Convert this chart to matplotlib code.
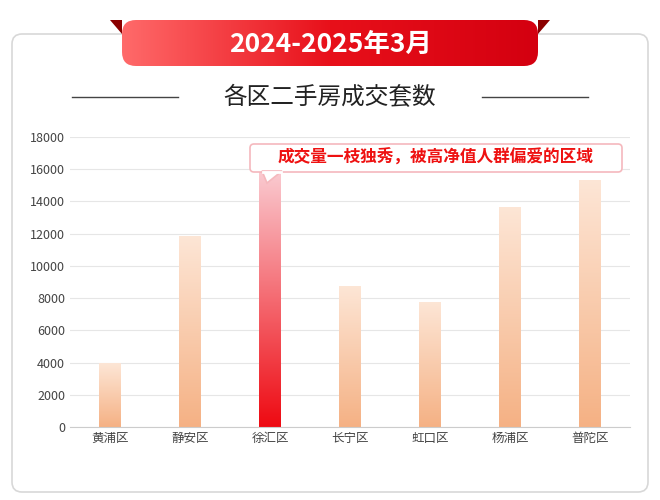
import numpy as np
import matplotlib.pyplot as plt
from matplotlib.patches import FancyBboxPatch, Polygon
from matplotlib.colors import LinearSegmentedColormap

plt.rcParams['font.family'] = 'sans-serif'
plt.rcParams['font.sans-serif'] = ['Noto Sans CJK SC', 'Noto Sans CJK JP', 'Noto Sans CJK TC',
                                   'Noto Sans CJK KR', 'DejaVu Sans']

districts = ['黄浦区', '静安区', '徐汇区', '长宁区', '虹口区', '杨浦区', '普陀区']
deals = [3970, 11860, 16800, 8760, 7760, 13660, 15340]
yticks = [0, 2000, 4000, 6000, 8000, 10000, 12000, 14000, 16000, 18000]
highlight = '徐汇区'

fig = plt.figure(figsize=(6.6, 5), dpi=100)
W, H = 660, 500

# card background
bg = fig.add_axes([0, 0, 1, 1])
bg.set_xlim(0, W); bg.set_ylim(H, 0); bg.axis('off')
bg.add_patch(FancyBboxPatch((12, 34), 636, 458, boxstyle='round,pad=0,rounding_size=10',
                            fc='white', ec='#d8d8d8', lw=1.2))
# banner with gradient
bg.add_patch(Polygon([[110, 20], [122, 20], [122, 34]], closed=True, fc='#8b0000', ec='none'))
bg.add_patch(Polygon([[550, 20], [538, 20], [538, 34]], closed=True, fc='#8b0000', ec='none'))
banner = FancyBboxPatch((122, 20), 416, 46, boxstyle='round,pad=0,rounding_size=14', fc='none', ec='none')
bg.add_patch(banner)
grad = np.linspace(0, 1, 256).reshape(1, -1)
cm_b = LinearSegmentedColormap.from_list('b', ['#ff6a6a', '#e8101a', '#d40010'])
im = bg.imshow(grad, extent=[122, 538, 66, 20], cmap=cm_b, aspect='auto', zorder=1)
im.set_clip_path(banner)
bg.text(330, 44, '2024-2025年3月', color='white', fontsize=19, fontweight='bold', ha='center', va='center', zorder=2)
bg.text(330, 97, '各区二手房成交套数', color='#222222', fontsize=17, ha='center', va='center')
bg.plot([72, 178], [97, 97], color='#444444', lw=1)
bg.plot([482, 588], [97, 97], color='#444444', lw=1)

# chart
ax = fig.add_axes([70 / W, 1 - 427 / H, 560 / W, 290 / H])
ax.patch.set_alpha(0)
ax.set_yticks(yticks)
ax.set_xticks(range(len(districts)))
ax.set_xticklabels(districts)
ax.tick_params(length=0, labelsize=9, colors='#444444')
ax.grid(axis='y', color='#e6e6e6', lw=0.8)
ax.set_axisbelow(True)
for s in ['top', 'right', 'left']:
    ax.spines[s].set_visible(False)
ax.spines['bottom'].set_color('#cccccc')

cm_o = LinearSegmentedColormap.from_list('o', ['#f5b184', '#fde6d6'])
cm_r = LinearSegmentedColormap.from_list('r', ['#ee0a12', '#fbd6dc'])
vgrad = np.linspace(0, 1, 256).reshape(-1, 1)
bars = ax.bar(range(len(districts)), deals, width=0.27, color='none')
for b, name in zip(bars, districts):
    x0, h = b.get_x(), b.get_height()
    img = ax.imshow(vgrad, extent=[x0, x0 + b.get_width(), 0, h], origin='lower', aspect='auto',
                    cmap=cm_r if name == highlight else cm_o, zorder=2)
    img.set_clip_path(b)
ax.set_xlim(-0.5, len(districts) - 0.5)
ax.set_ylim(0, 18000)

# callout on top layer
top = fig.add_axes([0, 0, 1, 1])
top.set_xlim(0, W); top.set_ylim(H, 0); top.axis('off')
top.add_patch(FancyBboxPatch((250, 144), 372, 28, boxstyle='round,pad=0,rounding_size=4',
                             fc='white', ec='#f5b8bd', lw=1.2, zorder=5))
top.add_patch(Polygon([[262, 171], [267, 183], [282, 171]], closed=True, fc='white', ec='#f5b8bd', lw=1.2, zorder=5))
top.plot([263, 281], [171.5, 171.5], color='white', lw=2, zorder=6)
top.text(436, 158, '成交量一枝独秀，被高净值人群偏爱的区域', color='#ee1111', fontsize=12,
         fontweight='bold', ha='center', va='center', zorder=7)

fig.savefig('out.png', dpi=100)
